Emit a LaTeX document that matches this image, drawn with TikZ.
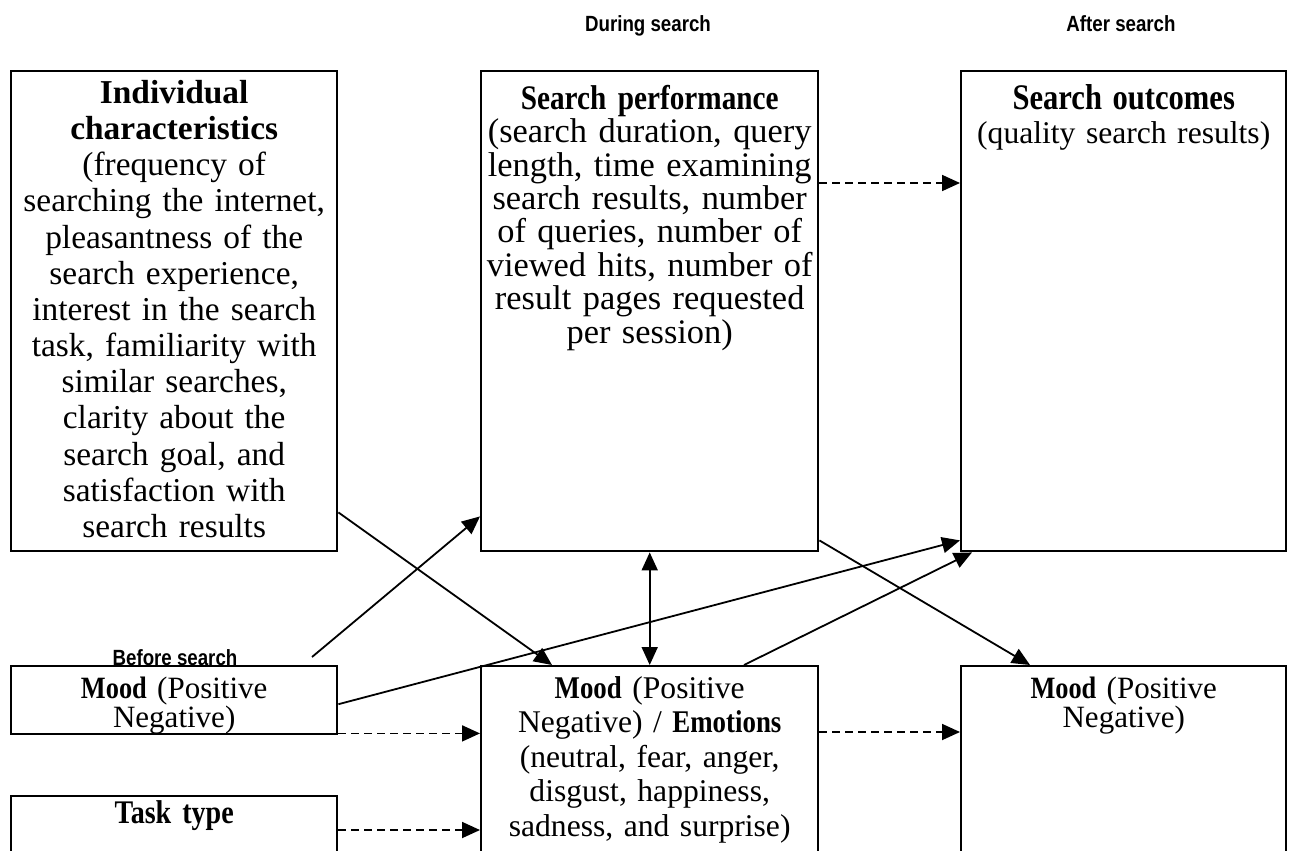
\documentclass[tikz,border=0pt]{standalone}
\usepackage{fontspec}
\setmainfont{Liberation Serif}
\newfontfamily\headfont{Liberation Sans}[FakeStretch=0.85]
\newfontfamily\narrowserif{Liberation Serif}[FakeStretch=0.85]
\newcommand\condbf[1]{{\narrowserif\bfseries #1}}
\usetikzlibrary{arrows.meta,positioning}

\begin{document}
\begin{tikzpicture}[x=0.5pt,y=-0.5pt,
    box/.style={draw, line width=1.2pt, align=center, inner sep=0pt, anchor=north west},
    phase/.style={font=\headfont\bfseries\fontsize{11}{13}\selectfont, anchor=base},
    arr/.style={-{Triangle[length=9pt,width=8pt]}, line width=0.9pt},
    dsh/.style={arr, dash pattern=on 4pt off 2.5pt}]
      \useasboundingbox (0,0) rectangle (1293,850);
      \clip (0,0) rectangle (1293,850);
      % phase headings
      \node[phase] at (648,32) (during) {During search};
      \node[phase] at (1121,32) (after) {After search};
      \node[phase] at (175,665) (before) {Before search};
      % boxes
      \node[box, text width=163pt, text height=16pt, text depth=224pt,
            font=\fontsize{16.7}{18.1}\selectfont] at (10,70) (indiv)
            {\textbf{Individual}\\ \textbf{characteristics}\\ (frequency of\\
             searching the internet,\\ pleasantness of the\\ search experience,\\
             interest in the search\\ task, familiarity with\\ similar searches,\\
             clarity about the\\ search goal, and\\ satisfaction with\\ search results};
      \node[box, text width=168.5pt, text height=19pt, text depth=221pt,
            font=\fontsize{17.2}{16.7}\selectfont] at (480,70) (perf)
            {\condbf{Search performance}\\ (search duration, query\\ length, time examining\\
             search results, number\\ of queries, number of\\ viewed hits, number of\\
             result pages requested\\ per session)};
      \node[box, text width=162.5pt, text height=19pt, text depth=221pt,
            font=\fontsize{15.8}{17}\selectfont] at (960,70) (outc)
            {{\narrowserif\bfseries\fontsize{18}{17}\selectfont Search outcomes}\\ (quality search results)};
      \node[box, text width=163pt, text height=16pt, text depth=18pt,
            font=\fontsize{15.5}{14.5}\selectfont] at (10,665) (moodB)
            {\condbf{Mood} (Positive\\ Negative)};
      \node[box, text width=168.5pt, text height=16pt, text depth=91.5pt,
            font=\fontsize{15.8}{17.25}\selectfont] at (480,665) (moodD)
            {\condbf{Mood} (Positive\\ Negative) / \condbf{Emotions}\\
             (neutral, fear, anger,\\ disgust, happiness,\\ sadness, and surprise)};
      \node[box, text width=162.5pt, text height=16pt, text depth=91.5pt,
            font=\fontsize{15.5}{14.5}\selectfont] at (960,665) (moodA)
            {\condbf{Mood} (Positive\\ Negative)};
      \node[box, text width=163pt, text height=13.5pt, text depth=29pt,
            font=\fontsize{16.5}{17}\selectfont] at (10,795) (task)
            {\condbf{Task type}};
      \coordinate (bstart) at (312,657);
      % solid links
      \draw[arr] ([yshift=20pt]indiv.south east) -- ([xshift=36pt]moodD.north west);
      \draw[arr] (bstart) -- ([yshift=18pt]perf.south west);
      \draw[arr] ([yshift=-2pt]moodB.east) -- ([yshift=6pt]outc.south west);
      \draw[arr] ([xshift=132pt]moodD.north west) -- ([xshift=6pt]outc.south west);
      \draw[arr] ([yshift=6pt]perf.south east) -- ([xshift=35pt]moodA.north west);
      \draw[{Triangle[length=9pt,width=8pt]}-{Triangle[length=9pt,width=8pt]}, line width=0.9pt]
            (perf.south) -- (moodD.north);
      % dashed links
      \draw[dsh] ([yshift=1pt]moodB.south east) -- ([yshift=1pt]moodB.south east -| moodD.west);
      \draw[dsh] ([yshift=-56.5pt]perf.north east) -- ([yshift=-56.5pt]outc.north west);
      \draw[dsh] ([yshift=-17.5pt]task.north east) -- ([yshift=-82.5pt]moodD.north west);
      \draw[dsh] ([yshift=-33.5pt]moodD.north east) -- ([yshift=-33.5pt]moodA.north west);
\end{tikzpicture}
\end{document}
